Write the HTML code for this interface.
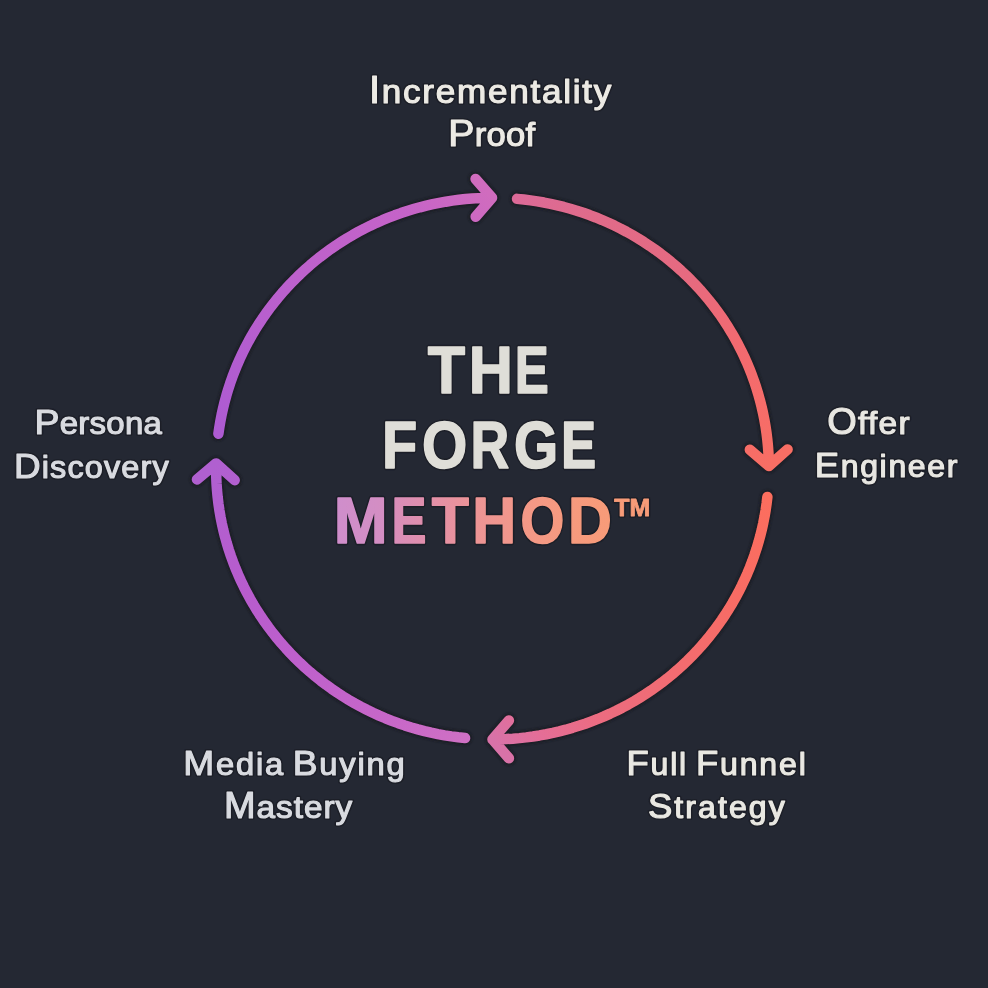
<!DOCTYPE html>
<html><head><meta charset="utf-8"><style>
html,body{margin:0;padding:0;background:#242833;}
body{width:988px;height:988px;overflow:hidden;}
svg{display:block;opacity:0.999;}
text{font-family:"Liberation Sans",sans-serif;}
</style></head><body>
<svg width="988" height="988" viewBox="0 0 988 988">
<defs><filter id="blur" x="-10%" y="-10%" width="120%" height="120%"><feGaussianBlur stdDeviation="1.0"/></filter><filter id="blur2" x="-10%" y="-30%" width="120%" height="160%"><feGaussianBlur stdDeviation="0.7"/></filter>
<linearGradient id="g0" gradientUnits="userSpaceOnUse" x1="218.4" y1="433.7" x2="492.0" y2="197.8"><stop offset="0" stop-color="#ad5bd2"/><stop offset="0.46" stop-color="#bd61cc"/><stop offset="0.79" stop-color="#c563c8"/><stop offset="1" stop-color="#d06cbe"/></linearGradient>
<linearGradient id="g1" gradientUnits="userSpaceOnUse" x1="517.1" y1="198.9" x2="768.9" y2="466.0"><stop offset="0" stop-color="#dc6a98"/><stop offset="0.17" stop-color="#e06b8a"/><stop offset="0.47" stop-color="#e66a80"/><stop offset="0.7" stop-color="#f26a70"/><stop offset="1" stop-color="#f86e64"/></linearGradient>
<linearGradient id="g2" gradientUnits="userSpaceOnUse" x1="767.4" y1="496.9" x2="492.5" y2="739.4"><stop offset="0" stop-color="#fc6e5e"/><stop offset="0.24" stop-color="#f86c64"/><stop offset="0.46" stop-color="#f36c6e"/><stop offset="0.74" stop-color="#ec6c80"/><stop offset="0.9" stop-color="#e46e98"/><stop offset="1" stop-color="#d872a8"/></linearGradient>
<linearGradient id="g3" gradientUnits="userSpaceOnUse" x1="465.0" y1="738.1" x2="216.2" y2="463.4"><stop offset="0" stop-color="#cf70c4"/><stop offset="0.15" stop-color="#c868c8"/><stop offset="0.45" stop-color="#be60cc"/><stop offset="0.68" stop-color="#b85ccd"/><stop offset="1" stop-color="#b060d0"/></linearGradient>
<linearGradient id="gg8" x1="0" y1="0" x2="1" y2="0"><stop offset="0" stop-color="#cf8ecc"/><stop offset="1" stop-color="#d48ec2"/></linearGradient>
<linearGradient id="gg9" x1="0" y1="0" x2="1" y2="0"><stop offset="0" stop-color="#d88dba"/><stop offset="1" stop-color="#e08fac"/></linearGradient>
<linearGradient id="gg10" x1="0" y1="0" x2="1" y2="0"><stop offset="0" stop-color="#e390a8"/><stop offset="1" stop-color="#eb9398"/></linearGradient>
<linearGradient id="gg11" x1="0" y1="0" x2="1" y2="0"><stop offset="0" stop-color="#ec9496"/><stop offset="1" stop-color="#f2978a"/></linearGradient>
<linearGradient id="gg12" x1="0" y1="0" x2="1" y2="0"><stop offset="0" stop-color="#f39888"/><stop offset="1" stop-color="#f69a7f"/></linearGradient>
<linearGradient id="gg13" x1="0" y1="0" x2="1" y2="0"><stop offset="0" stop-color="#f69a7e"/><stop offset="1" stop-color="#f79b78"/></linearGradient>
<linearGradient id="gg14" x1="0" y1="0" x2="1" y2="0"><stop offset="0" stop-color="#f79b78"/><stop offset="1" stop-color="#f79b78"/></linearGradient></defs>
<rect width="988" height="988" fill="#242833"/>
<path d="M218.40 433.72 L219.34 427.29 L220.43 420.88 L221.67 414.50 L223.08 408.14 L224.63 401.83 L226.35 395.55 L228.21 389.31 L230.23 383.12 L232.40 376.98 L234.72 370.89 L237.19 364.86 L239.80 358.89 L242.56 352.98 L245.46 347.14 L248.51 341.36 L251.70 335.66 L255.02 330.04 L258.48 324.50 L262.08 319.04 L265.81 313.66 L269.67 308.38 L273.66 303.19 L277.77 298.09 L282.01 293.09 L286.37 288.19 L290.85 283.40 L295.44 278.71 L300.15 274.13 L304.97 269.67 L309.89 265.31 L314.93 261.08 L320.06 256.96 L325.29 252.97 L330.62 249.10 L336.04 245.36 L341.56 241.75 L347.16 238.26 L352.84 234.91 L358.60 231.70 L364.44 228.62 L370.36 225.67 L376.34 222.87 L382.40 220.21 L388.51 217.70 L394.69 215.32 L400.92 213.10 L407.20 211.02 L413.54 209.09 L419.91 207.30 L426.34 205.67 L432.79 204.19 L439.29 202.87 L445.81 201.69 L452.36 200.67 L458.94 199.80 L465.53 199.09 L472.14 198.54 L478.76 198.13 L485.39 197.89 L492.02 197.80 M475.58 178.96 L492.02 197.80 M475.65 216.70 L492.02 197.80" stroke="#15171d" stroke-width="14.5" fill="none" stroke-linecap="round" stroke-linejoin="round" opacity="0.6" filter="url(#blur)"/>
<path d="M218.40 433.72 L219.34 427.29 L220.43 420.88 L221.67 414.50 L223.08 408.14 L224.63 401.83 L226.35 395.55 L228.21 389.31 L230.23 383.12 L232.40 376.98 L234.72 370.89 L237.19 364.86 L239.80 358.89 L242.56 352.98 L245.46 347.14 L248.51 341.36 L251.70 335.66 L255.02 330.04 L258.48 324.50 L262.08 319.04 L265.81 313.66 L269.67 308.38 L273.66 303.19 L277.77 298.09 L282.01 293.09 L286.37 288.19 L290.85 283.40 L295.44 278.71 L300.15 274.13 L304.97 269.67 L309.89 265.31 L314.93 261.08 L320.06 256.96 L325.29 252.97 L330.62 249.10 L336.04 245.36 L341.56 241.75 L347.16 238.26 L352.84 234.91 L358.60 231.70 L364.44 228.62 L370.36 225.67 L376.34 222.87 L382.40 220.21 L388.51 217.70 L394.69 215.32 L400.92 213.10 L407.20 211.02 L413.54 209.09 L419.91 207.30 L426.34 205.67 L432.79 204.19 L439.29 202.87 L445.81 201.69 L452.36 200.67 L458.94 199.80 L465.53 199.09 L472.14 198.54 L478.76 198.13 L485.39 197.89 L492.02 197.80 M475.58 178.96 L492.02 197.80 M475.65 216.70 L492.02 197.80" stroke="url(#g0)" stroke-width="10.5" fill="none" stroke-linecap="round" stroke-linejoin="round"/>
<path d="M517.07 198.87 L523.82 199.54 L530.55 200.38 L537.25 201.37 L543.93 202.53 L550.58 203.85 L557.19 205.32 L563.76 206.96 L570.29 208.75 L576.78 210.69 L583.21 212.80 L589.59 215.06 L595.91 217.47 L602.16 220.03 L608.36 222.74 L614.48 225.60 L620.53 228.60 L626.50 231.75 L632.39 235.04 L638.19 238.48 L643.91 242.05 L649.54 245.76 L655.07 249.60 L660.51 253.57 L665.84 257.67 L671.07 261.90 L676.20 266.26 L681.21 270.73 L686.11 275.33 L690.89 280.04 L695.55 284.87 L700.09 289.80 L704.50 294.85 L708.79 300.00 L712.95 305.24 L716.97 310.59 L720.86 316.04 L724.61 321.57 L728.22 327.19 L731.69 332.90 L735.02 338.69 L738.20 344.56 L741.23 350.51 L744.11 356.52 L746.85 362.60 L749.42 368.75 L751.85 374.95 L754.11 381.21 L756.22 387.53 L758.17 393.89 L759.96 400.30 L761.59 406.75 L763.06 413.24 L764.37 419.76 L765.51 426.31 L766.49 432.88 L767.30 439.48 L767.94 446.09 L768.42 452.72 L768.74 459.36 L768.89 466.00 M787.59 449.41 L768.89 466.00 M749.86 449.78 L768.89 466.00" stroke="#15171d" stroke-width="14.5" fill="none" stroke-linecap="round" stroke-linejoin="round" opacity="0.6" filter="url(#blur)"/>
<path d="M517.07 198.87 L523.82 199.54 L530.55 200.38 L537.25 201.37 L543.93 202.53 L550.58 203.85 L557.19 205.32 L563.76 206.96 L570.29 208.75 L576.78 210.69 L583.21 212.80 L589.59 215.06 L595.91 217.47 L602.16 220.03 L608.36 222.74 L614.48 225.60 L620.53 228.60 L626.50 231.75 L632.39 235.04 L638.19 238.48 L643.91 242.05 L649.54 245.76 L655.07 249.60 L660.51 253.57 L665.84 257.67 L671.07 261.90 L676.20 266.26 L681.21 270.73 L686.11 275.33 L690.89 280.04 L695.55 284.87 L700.09 289.80 L704.50 294.85 L708.79 300.00 L712.95 305.24 L716.97 310.59 L720.86 316.04 L724.61 321.57 L728.22 327.19 L731.69 332.90 L735.02 338.69 L738.20 344.56 L741.23 350.51 L744.11 356.52 L746.85 362.60 L749.42 368.75 L751.85 374.95 L754.11 381.21 L756.22 387.53 L758.17 393.89 L759.96 400.30 L761.59 406.75 L763.06 413.24 L764.37 419.76 L765.51 426.31 L766.49 432.88 L767.30 439.48 L767.94 446.09 L768.42 452.72 L768.74 459.36 L768.89 466.00 M787.59 449.41 L768.89 466.00 M749.86 449.78 L768.89 466.00" stroke="url(#g1)" stroke-width="10.5" fill="none" stroke-linecap="round" stroke-linejoin="round"/>
<path d="M767.39 496.91 L766.60 503.48 L765.65 510.03 L764.53 516.55 L763.25 523.05 L761.82 529.52 L760.22 535.95 L758.46 542.33 L756.54 548.68 L754.46 554.97 L752.23 561.22 L749.84 567.41 L747.30 573.54 L744.61 579.61 L741.77 585.61 L738.77 591.54 L735.63 597.40 L732.35 603.18 L728.92 608.88 L725.35 614.50 L721.65 620.03 L717.80 625.47 L713.82 630.82 L709.71 636.06 L705.47 641.21 L701.10 646.26 L696.61 651.20 L691.99 656.03 L687.26 660.75 L682.41 665.36 L677.45 669.84 L672.37 674.21 L667.19 678.45 L661.91 682.57 L656.52 686.57 L651.04 690.43 L645.46 694.16 L639.79 697.75 L634.03 701.21 L628.19 704.52 L622.26 707.70 L616.26 710.74 L610.19 713.63 L604.04 716.37 L597.83 718.97 L591.55 721.41 L585.22 723.71 L578.83 725.85 L572.39 727.84 L565.90 729.68 L559.37 731.36 L552.79 732.88 L546.19 734.24 L539.55 735.45 L532.88 736.49 L526.18 737.38 L519.47 738.11 L512.74 738.67 L506.00 739.08 L499.25 739.32 L492.50 739.40 M508.90 758.27 L492.50 739.40 M508.90 720.53 L492.50 739.40" stroke="#15171d" stroke-width="14.5" fill="none" stroke-linecap="round" stroke-linejoin="round" opacity="0.6" filter="url(#blur)"/>
<path d="M767.39 496.91 L766.60 503.48 L765.65 510.03 L764.53 516.55 L763.25 523.05 L761.82 529.52 L760.22 535.95 L758.46 542.33 L756.54 548.68 L754.46 554.97 L752.23 561.22 L749.84 567.41 L747.30 573.54 L744.61 579.61 L741.77 585.61 L738.77 591.54 L735.63 597.40 L732.35 603.18 L728.92 608.88 L725.35 614.50 L721.65 620.03 L717.80 625.47 L713.82 630.82 L709.71 636.06 L705.47 641.21 L701.10 646.26 L696.61 651.20 L691.99 656.03 L687.26 660.75 L682.41 665.36 L677.45 669.84 L672.37 674.21 L667.19 678.45 L661.91 682.57 L656.52 686.57 L651.04 690.43 L645.46 694.16 L639.79 697.75 L634.03 701.21 L628.19 704.52 L622.26 707.70 L616.26 710.74 L610.19 713.63 L604.04 716.37 L597.83 718.97 L591.55 721.41 L585.22 723.71 L578.83 725.85 L572.39 727.84 L565.90 729.68 L559.37 731.36 L552.79 732.88 L546.19 734.24 L539.55 735.45 L532.88 736.49 L526.18 737.38 L519.47 738.11 L512.74 738.67 L506.00 739.08 L499.25 739.32 L492.50 739.40 M508.90 758.27 L492.50 739.40 M508.90 720.53 L492.50 739.40" stroke="url(#g2)" stroke-width="10.5" fill="none" stroke-linecap="round" stroke-linejoin="round"/>
<path d="M465.05 738.06 L458.22 737.31 L451.42 736.39 L444.65 735.31 L437.90 734.06 L431.19 732.65 L424.51 731.08 L417.88 729.34 L411.29 727.45 L404.75 725.39 L398.27 723.18 L391.84 720.80 L385.48 718.28 L379.18 715.60 L372.96 712.76 L366.80 709.78 L360.73 706.64 L354.73 703.36 L348.82 699.94 L343.00 696.37 L337.27 692.66 L331.64 688.82 L326.11 684.83 L320.68 680.72 L315.35 676.47 L310.14 672.09 L305.03 667.59 L300.05 662.97 L295.18 658.23 L290.43 653.37 L285.81 648.39 L281.31 643.31 L276.95 638.11 L272.72 632.81 L268.62 627.42 L264.67 621.92 L260.85 616.33 L257.18 610.64 L253.65 604.87 L250.27 599.02 L247.03 593.08 L243.95 587.07 L241.03 580.98 L238.26 574.83 L235.64 568.61 L233.18 562.33 L230.89 555.99 L228.75 549.60 L226.78 543.15 L224.97 536.66 L223.33 530.13 L221.85 523.56 L220.54 516.96 L219.40 510.32 L218.43 503.67 L217.62 496.98 L216.99 490.29 L216.52 483.57 L216.23 476.85 L216.10 470.13 L216.15 463.40 M196.97 479.43 L216.15 463.40 M234.69 480.17 L216.15 463.40" stroke="#15171d" stroke-width="14.5" fill="none" stroke-linecap="round" stroke-linejoin="round" opacity="0.6" filter="url(#blur)"/>
<path d="M465.05 738.06 L458.22 737.31 L451.42 736.39 L444.65 735.31 L437.90 734.06 L431.19 732.65 L424.51 731.08 L417.88 729.34 L411.29 727.45 L404.75 725.39 L398.27 723.18 L391.84 720.80 L385.48 718.28 L379.18 715.60 L372.96 712.76 L366.80 709.78 L360.73 706.64 L354.73 703.36 L348.82 699.94 L343.00 696.37 L337.27 692.66 L331.64 688.82 L326.11 684.83 L320.68 680.72 L315.35 676.47 L310.14 672.09 L305.03 667.59 L300.05 662.97 L295.18 658.23 L290.43 653.37 L285.81 648.39 L281.31 643.31 L276.95 638.11 L272.72 632.81 L268.62 627.42 L264.67 621.92 L260.85 616.33 L257.18 610.64 L253.65 604.87 L250.27 599.02 L247.03 593.08 L243.95 587.07 L241.03 580.98 L238.26 574.83 L235.64 568.61 L233.18 562.33 L230.89 555.99 L228.75 549.60 L226.78 543.15 L224.97 536.66 L223.33 530.13 L221.85 523.56 L220.54 516.96 L219.40 510.32 L218.43 503.67 L217.62 496.98 L216.99 490.29 L216.52 483.57 L216.23 476.85 L216.10 470.13 L216.15 463.40 M196.97 479.43 L216.15 463.40 M234.69 480.17 L216.15 463.40" stroke="url(#g3)" stroke-width="10.5" fill="none" stroke-linecap="round" stroke-linejoin="round"/>
<text class="th" filter="url(#blur2)" transform="translate(368.90 103.02) scale(1.0500 1)" x="0" y="0" font-size="38.01" font-weight="400" textLength="230.98" lengthAdjust="spacing" fill="none" stroke="#14161c" stroke-width="4.15" opacity="0.5" stroke-linejoin="round">I<tspan font-size="33.45">ncrementality</tspan></text>
<text class="th" filter="url(#blur2)" transform="translate(448.30 146.43) scale(1.0500 1)" x="0" y="0" font-size="37.43" font-weight="400" textLength="82.59" lengthAdjust="spacing" fill="none" stroke="#14161c" stroke-width="4.15" opacity="0.5" stroke-linejoin="round">P<tspan font-size="32.94">roof</tspan></text>
<text class="th" filter="url(#blur2)" transform="translate(34.50 433.82) scale(1.0500 1)" x="0" y="0" font-size="35.68" font-weight="400" textLength="121.35" lengthAdjust="spacing" fill="none" stroke="#14161c" stroke-width="4.15" opacity="0.5" stroke-linejoin="round">P<tspan font-size="31.40">ersona</tspan></text>
<text class="th" filter="url(#blur2)" transform="translate(13.90 477.62) scale(1.0500 1)" x="0" y="0" font-size="35.10" font-weight="400" textLength="147.45" lengthAdjust="spacing" fill="none" stroke="#14161c" stroke-width="4.15" opacity="0.5" stroke-linejoin="round">D<tspan font-size="30.89">iscovery</tspan></text>
<text class="th" filter="url(#blur2)" transform="translate(827.20 434.43) scale(1.0500 1)" x="0" y="0" font-size="36.12" font-weight="400" textLength="78.42" lengthAdjust="spacing" fill="none" stroke="#14161c" stroke-width="4.15" opacity="0.5" stroke-linejoin="round">O<tspan font-size="31.78">ffer</tspan></text>
<text class="th" filter="url(#blur2)" transform="translate(814.80 477.43) scale(1.0500 1)" x="0" y="0" font-size="34.67" font-weight="400" textLength="135.84" lengthAdjust="spacing" fill="none" stroke="#14161c" stroke-width="4.15" opacity="0.5" stroke-linejoin="round">E<tspan font-size="30.51">ngineer</tspan></text>
<text class="th" filter="url(#blur2)" transform="translate(183.30 775.22) scale(1.0500 1)" x="0" y="0" font-size="35.39" font-weight="400" textLength="210.80" lengthAdjust="spacing" word-spacing="-4" fill="none" stroke="#14161c" stroke-width="4.15" opacity="0.5" stroke-linejoin="round">M<tspan font-size="31.15">edia</tspan> B<tspan font-size="31.15">uying</tspan></text>
<text class="th" filter="url(#blur2)" transform="translate(224.00 818.42) scale(1.0500 1)" x="0" y="0" font-size="36.12" font-weight="400" textLength="122.11" lengthAdjust="spacing" fill="none" stroke="#14161c" stroke-width="4.15" opacity="0.5" stroke-linejoin="round">M<tspan font-size="31.78">astery</tspan></text>
<text class="th" filter="url(#blur2)" transform="translate(626.40 775.02) scale(1.0500 1)" x="0" y="0" font-size="34.67" font-weight="400" textLength="170.82" lengthAdjust="spacing" word-spacing="-4" fill="none" stroke="#14161c" stroke-width="4.15" opacity="0.5" stroke-linejoin="round">F<tspan font-size="30.51">ull</tspan> F<tspan font-size="30.51">unnel</tspan></text>
<text class="th" filter="url(#blur2)" transform="translate(648.00 817.92) scale(1.0500 1)" x="0" y="0" font-size="34.67" font-weight="400" textLength="130.20" lengthAdjust="spacing" fill="none" stroke="#14161c" stroke-width="4.15" opacity="0.5" stroke-linejoin="round">S<tspan font-size="30.51">trategy</tspan></text>
<text class="th" filter="url(#blur2)" transform="translate(427.80 392.50) scale(0.9251 1)" x="0" y="0" font-size="66.13" font-weight="700" fill="none" stroke="#14161c" stroke-width="4.60" opacity="0.5" stroke-linejoin="round">T</text>
<text class="th" filter="url(#blur2)" transform="translate(468.70 392.50) scale(0.9251 1)" x="0" y="0" font-size="66.13" font-weight="700" fill="none" stroke="#14161c" stroke-width="4.60" opacity="0.5" stroke-linejoin="round">H</text>
<text class="th" filter="url(#blur2)" transform="translate(514.80 392.50) scale(0.7724 1)" x="0" y="0" font-size="66.13" font-weight="700" fill="none" stroke="#14161c" stroke-width="4.60" opacity="0.5" stroke-linejoin="round">E</text>
<text class="th" filter="url(#blur2)" transform="translate(382.00 468.40) scale(0.8726 1)" x="0" y="0" font-size="66.13" font-weight="700" fill="none" stroke="#14161c" stroke-width="4.60" opacity="0.5" stroke-linejoin="round">F</text>
<text class="th" filter="url(#blur2)" transform="translate(421.90 468.40) scale(0.8801 1)" x="0" y="0" font-size="66.13" font-weight="700" fill="none" stroke="#14161c" stroke-width="4.60" opacity="0.5" stroke-linejoin="round">O</text>
<text class="th" filter="url(#blur2)" transform="translate(470.50 468.40) scale(0.8108 1)" x="0" y="0" font-size="66.13" font-weight="700" fill="none" stroke="#14161c" stroke-width="4.60" opacity="0.5" stroke-linejoin="round">R</text>
<text class="th" filter="url(#blur2)" transform="translate(514.10 468.40) scale(0.8593 1)" x="0" y="0" font-size="66.13" font-weight="700" fill="none" stroke="#14161c" stroke-width="4.60" opacity="0.5" stroke-linejoin="round">G</text>
<text class="th" filter="url(#blur2)" transform="translate(561.10 468.40) scale(0.7975 1)" x="0" y="0" font-size="66.13" font-weight="700" fill="none" stroke="#14161c" stroke-width="4.60" opacity="0.5" stroke-linejoin="round">E</text>
<text class="th" filter="url(#blur2)" transform="translate(333.80 542.90) scale(0.9848 1)" x="0" y="0" font-size="65.70" font-weight="700" fill="none" stroke="#14161c" stroke-width="4.60" opacity="0.5" stroke-linejoin="round">M</text>
<text class="th" filter="url(#blur2)" transform="translate(391.50 542.90) scale(0.7991 1)" x="0" y="0" font-size="65.70" font-weight="700" fill="none" stroke="#14161c" stroke-width="4.60" opacity="0.5" stroke-linejoin="round">E</text>
<text class="th" filter="url(#blur2)" transform="translate(431.70 542.90) scale(0.9255 1)" x="0" y="0" font-size="65.70" font-weight="700" fill="none" stroke="#14161c" stroke-width="4.60" opacity="0.5" stroke-linejoin="round">T</text>
<text class="th" filter="url(#blur2)" transform="translate(472.30 542.90) scale(0.9262 1)" x="0" y="0" font-size="65.70" font-weight="700" fill="none" stroke="#14161c" stroke-width="4.60" opacity="0.5" stroke-linejoin="round">H</text>
<text class="th" filter="url(#blur2)" transform="translate(520.60 542.90) scale(0.8581 1)" x="0" y="0" font-size="65.70" font-weight="700" fill="none" stroke="#14161c" stroke-width="4.60" opacity="0.5" stroke-linejoin="round">O</text>
<text class="th" filter="url(#blur2)" transform="translate(568.00 542.90) scale(0.9243 1)" x="0" y="0" font-size="65.70" font-weight="700" fill="none" stroke="#14161c" stroke-width="4.60" opacity="0.5" stroke-linejoin="round">D</text>
<text class="th" filter="url(#blur2)" transform="translate(614.30 515.70) scale(1.0462 1)" x="0" y="0" font-size="23.84" font-weight="700" fill="none" stroke="#14161c" stroke-width="3.80" opacity="0.5" stroke-linejoin="round">TM</text>
<text class="tx" transform="translate(368.90 103.02) scale(1.0500 1)" x="0" y="0" font-size="38.01" font-weight="400" textLength="230.98" lengthAdjust="spacing" fill="#eceae4" stroke="#eceae4" stroke-width="1.15" stroke-linejoin="round">I<tspan font-size="33.45">ncrementality</tspan></text>
<text class="tx" transform="translate(448.30 146.43) scale(1.0500 1)" x="0" y="0" font-size="37.43" font-weight="400" textLength="82.59" lengthAdjust="spacing" fill="#eceae4" stroke="#eceae4" stroke-width="1.15" stroke-linejoin="round">P<tspan font-size="32.94">roof</tspan></text>
<text class="tx" transform="translate(34.50 433.82) scale(1.0500 1)" x="0" y="0" font-size="35.68" font-weight="400" textLength="121.35" lengthAdjust="spacing" fill="#d9dbe0" stroke="#d9dbe0" stroke-width="1.15" stroke-linejoin="round">P<tspan font-size="31.40">ersona</tspan></text>
<text class="tx" transform="translate(13.90 477.62) scale(1.0500 1)" x="0" y="0" font-size="35.10" font-weight="400" textLength="147.45" lengthAdjust="spacing" fill="#d9dbe0" stroke="#d9dbe0" stroke-width="1.15" stroke-linejoin="round">D<tspan font-size="30.89">iscovery</tspan></text>
<text class="tx" transform="translate(827.20 434.43) scale(1.0500 1)" x="0" y="0" font-size="36.12" font-weight="400" textLength="78.42" lengthAdjust="spacing" fill="#e8e7e2" stroke="#e8e7e2" stroke-width="1.15" stroke-linejoin="round">O<tspan font-size="31.78">ffer</tspan></text>
<text class="tx" transform="translate(814.80 477.43) scale(1.0500 1)" x="0" y="0" font-size="34.67" font-weight="400" textLength="135.84" lengthAdjust="spacing" fill="#e8e7e2" stroke="#e8e7e2" stroke-width="1.15" stroke-linejoin="round">E<tspan font-size="30.51">ngineer</tspan></text>
<text class="tx" transform="translate(183.30 775.22) scale(1.0500 1)" x="0" y="0" font-size="35.39" font-weight="400" textLength="210.80" lengthAdjust="spacing" word-spacing="-4" fill="#d9dbe0" stroke="#d9dbe0" stroke-width="1.15" stroke-linejoin="round">M<tspan font-size="31.15">edia</tspan> B<tspan font-size="31.15">uying</tspan></text>
<text class="tx" transform="translate(224.00 818.42) scale(1.0500 1)" x="0" y="0" font-size="36.12" font-weight="400" textLength="122.11" lengthAdjust="spacing" fill="#d9dbe0" stroke="#d9dbe0" stroke-width="1.15" stroke-linejoin="round">M<tspan font-size="31.78">astery</tspan></text>
<text class="tx" transform="translate(626.40 775.02) scale(1.0500 1)" x="0" y="0" font-size="34.67" font-weight="400" textLength="170.82" lengthAdjust="spacing" word-spacing="-4" fill="#e9e8e2" stroke="#e9e8e2" stroke-width="1.15" stroke-linejoin="round">F<tspan font-size="30.51">ull</tspan> F<tspan font-size="30.51">unnel</tspan></text>
<text class="tx" transform="translate(648.00 817.92) scale(1.0500 1)" x="0" y="0" font-size="34.67" font-weight="400" textLength="130.20" lengthAdjust="spacing" fill="#e9e8e2" stroke="#e9e8e2" stroke-width="1.15" stroke-linejoin="round">S<tspan font-size="30.51">trategy</tspan></text>
<text class="tx" transform="translate(427.80 392.50) scale(0.9251 1)" x="0" y="0" font-size="66.13" font-weight="700" fill="#dfded8" stroke="#dfded8" stroke-width="1.60" stroke-linejoin="round">T</text>
<text class="tx" transform="translate(468.70 392.50) scale(0.9251 1)" x="0" y="0" font-size="66.13" font-weight="700" fill="#dfded8" stroke="#dfded8" stroke-width="1.60" stroke-linejoin="round">H</text>
<text class="tx" transform="translate(514.80 392.50) scale(0.7724 1)" x="0" y="0" font-size="66.13" font-weight="700" fill="#dfded8" stroke="#dfded8" stroke-width="1.60" stroke-linejoin="round">E</text>
<text class="tx" transform="translate(382.00 468.40) scale(0.8726 1)" x="0" y="0" font-size="66.13" font-weight="700" fill="#dfded8" stroke="#dfded8" stroke-width="1.60" stroke-linejoin="round">F</text>
<text class="tx" transform="translate(421.90 468.40) scale(0.8801 1)" x="0" y="0" font-size="66.13" font-weight="700" fill="#dfded8" stroke="#dfded8" stroke-width="1.60" stroke-linejoin="round">O</text>
<text class="tx" transform="translate(470.50 468.40) scale(0.8108 1)" x="0" y="0" font-size="66.13" font-weight="700" fill="#dfded8" stroke="#dfded8" stroke-width="1.60" stroke-linejoin="round">R</text>
<text class="tx" transform="translate(514.10 468.40) scale(0.8593 1)" x="0" y="0" font-size="66.13" font-weight="700" fill="#dfded8" stroke="#dfded8" stroke-width="1.60" stroke-linejoin="round">G</text>
<text class="tx" transform="translate(561.10 468.40) scale(0.7975 1)" x="0" y="0" font-size="66.13" font-weight="700" fill="#dfded8" stroke="#dfded8" stroke-width="1.60" stroke-linejoin="round">E</text>
<text class="tx" transform="translate(333.80 542.90) scale(0.9848 1)" x="0" y="0" font-size="65.70" font-weight="700" fill="url(#gg8)" stroke="url(#gg8)" stroke-width="1.60" stroke-linejoin="round">M</text>
<text class="tx" transform="translate(391.50 542.90) scale(0.7991 1)" x="0" y="0" font-size="65.70" font-weight="700" fill="url(#gg9)" stroke="url(#gg9)" stroke-width="1.60" stroke-linejoin="round">E</text>
<text class="tx" transform="translate(431.70 542.90) scale(0.9255 1)" x="0" y="0" font-size="65.70" font-weight="700" fill="url(#gg10)" stroke="url(#gg10)" stroke-width="1.60" stroke-linejoin="round">T</text>
<text class="tx" transform="translate(472.30 542.90) scale(0.9262 1)" x="0" y="0" font-size="65.70" font-weight="700" fill="url(#gg11)" stroke="url(#gg11)" stroke-width="1.60" stroke-linejoin="round">H</text>
<text class="tx" transform="translate(520.60 542.90) scale(0.8581 1)" x="0" y="0" font-size="65.70" font-weight="700" fill="url(#gg12)" stroke="url(#gg12)" stroke-width="1.60" stroke-linejoin="round">O</text>
<text class="tx" transform="translate(568.00 542.90) scale(0.9243 1)" x="0" y="0" font-size="65.70" font-weight="700" fill="url(#gg13)" stroke="url(#gg13)" stroke-width="1.60" stroke-linejoin="round">D</text>
<text class="tx" transform="translate(614.30 515.70) scale(1.0462 1)" x="0" y="0" font-size="23.84" font-weight="700" fill="url(#gg14)" stroke="url(#gg14)" stroke-width="0.80" stroke-linejoin="round">TM</text>
</svg>
</body></html>
